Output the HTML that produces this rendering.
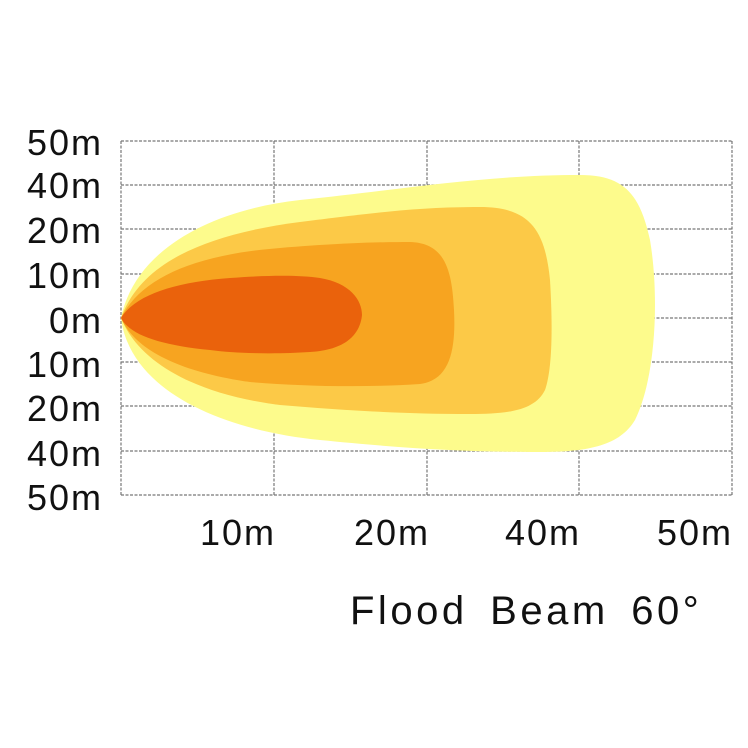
<!DOCTYPE html>
<html><head><meta charset="utf-8"><style>
html,body{margin:0;padding:0;background:#fff;}
svg{display:block;}
</style></head><body>
<svg width="748" height="748" viewBox="0 0 748 748" xmlns="http://www.w3.org/2000/svg">
<rect width="748" height="748" fill="#fff"/>
<g stroke="#777" stroke-width="1.2" stroke-dasharray="3,1.5" fill="none">
<line x1="121" y1="141" x2="732" y2="141"/>
<line x1="121" y1="185" x2="732" y2="185"/>
<line x1="121" y1="229" x2="732" y2="229"/>
<line x1="121" y1="274" x2="732" y2="274"/>
<line x1="121" y1="318" x2="732" y2="318"/>
<line x1="121" y1="362" x2="732" y2="362"/>
<line x1="121" y1="406" x2="732" y2="406"/>
<line x1="121" y1="451" x2="732" y2="451"/>
<line x1="121" y1="495" x2="732" y2="495"/>
<line x1="121" y1="141" x2="121" y2="495"/>
<line x1="274" y1="141" x2="274" y2="495"/>
<line x1="427" y1="141" x2="427" y2="495"/>
<line x1="579" y1="141" x2="579" y2="495"/>
<line x1="732" y1="141" x2="732" y2="495"/>
</g>
<path d="M121,318 C135,250 210,210 300,200 C400,190 480,175 580,175 C625,175 640,195 650,240 C660,300 655,380 635,420 C620,445 590,452 540,452 C460,452 400,448 320,440 C220,430 130,390 121,318 Z" fill="#fdfb8c"/>
<path d="M121,318 C140,265 200,235 300,222 C380,212 420,207 480,207 C530,207 545,230 550,280 C553,330 552,370 545,390 C535,410 510,414 470,414 C400,414 340,410 280,405 C200,395 140,365 121,318 Z" fill="#fcc947"/>
<path d="M121,318 C140,280 190,255 280,248 C340,243 380,242 410,242 C445,243 452,270 454,310 C456,350 450,380 420,384 C360,388 300,386 250,382 C180,372 135,350 121,318 Z" fill="#f7a420"/>
<path d="M121,318 C135,295 175,282 230,278 C270,275 300,275 320,278 C350,283 362,300 362,315 C360,335 345,350 310,352 C280,354 240,354 210,350 C160,345 130,335 121,318 Z" fill="#ea620c"/>
<g font-family="Liberation Sans, sans-serif" font-size="36" fill="#111" letter-spacing="2" text-anchor="end">
<text x="103" y="155">50m</text>
<text x="103" y="198">40m</text>
<text x="103" y="243">20m</text>
<text x="103" y="288">10m</text>
<text x="103" y="333">0m</text>
<text x="103" y="377">10m</text>
<text x="103" y="421">20m</text>
<text x="103" y="466">40m</text>
<text x="103" y="510">50m</text>
</g>
<g font-family="Liberation Sans, sans-serif" font-size="36" fill="#111" letter-spacing="2" text-anchor="middle">
<text x="238" y="545">10m</text>
<text x="392" y="545">20m</text>
<text x="543" y="545">40m</text>
<text x="695" y="545">50m</text>
</g>
<text x="350" y="624" font-family="Liberation Sans, sans-serif" font-size="40" fill="#111" letter-spacing="3.5" word-spacing="8">Flood Beam 60°</text>
</svg>
</body></html>
